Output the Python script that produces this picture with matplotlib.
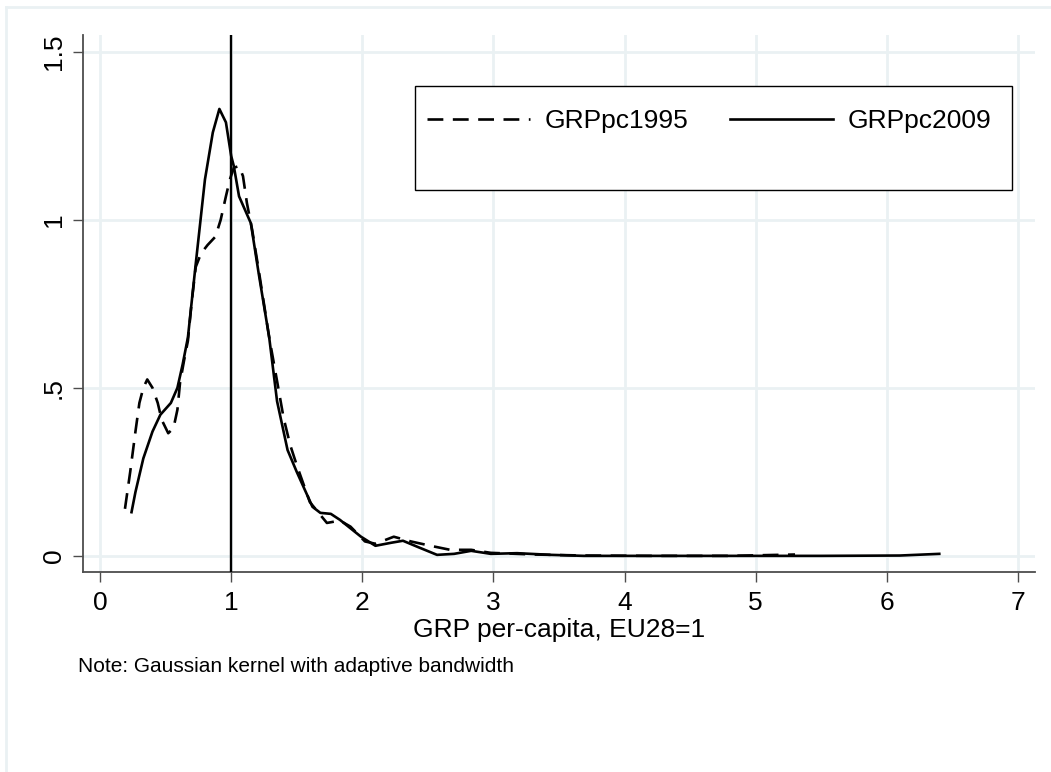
import matplotlib
matplotlib.use("Agg")
import matplotlib.pyplot as plt
from matplotlib.lines import Line2D
from matplotlib.patches import Rectangle

plt.rcParams.update({
    "font.family": ["Liberation Sans", "DejaVu Sans"],
    "font.size": 19,
})

# kernel density estimates, read as (GRP per-capita, density)
x_1995 = [0.19, 0.23, 0.27, 0.30, 0.33, 0.36, 0.40, 0.44, 0.47, 0.52, 0.56, 0.59,
          0.61, 0.64, 0.67, 0.70, 0.73, 0.77, 0.82, 0.88, 0.92, 0.96, 0.99, 1.02,
          1.06, 1.09, 1.12, 1.16, 1.21, 1.29, 1.35, 1.40, 1.45, 1.50, 1.60, 1.73,
          1.83, 1.91, 2.02, 2.10, 2.24, 2.37, 2.52, 2.67, 2.83, 2.98, 3.31, 3.69,
          4.20, 4.80, 5.30]
d_1995 = [0.14, 0.25, 0.37, 0.455, 0.50, 0.525, 0.50, 0.455, 0.405, 0.365, 0.38, 0.435,
          0.515, 0.58, 0.64, 0.76, 0.86, 0.90, 0.925, 0.95, 1.00, 1.07, 1.12, 1.155,
          1.16, 1.13, 1.05, 0.97, 0.85, 0.65, 0.52, 0.41, 0.33, 0.27, 0.16, 0.098,
          0.105, 0.087, 0.043, 0.036, 0.057, 0.043, 0.03, 0.018, 0.018, 0.009, 0.004, 0.001,
          0.0, 0.0, 0.004]

x_2009 = [0.24, 0.27, 0.33, 0.40, 0.46, 0.54, 0.59, 0.63, 0.67, 0.70, 0.73, 0.80,
          0.86, 0.91, 0.96, 1.00, 1.02, 1.06, 1.15, 1.21, 1.29, 1.35, 1.43, 1.50,
          1.62, 1.68, 1.76, 1.83, 1.99, 2.10, 2.22, 2.31, 2.42, 2.57, 2.70, 2.83,
          2.98, 3.18, 3.44, 3.69, 4.50, 5.50, 6.10, 6.40]
d_2009 = [0.13, 0.19, 0.29, 0.37, 0.42, 0.455, 0.50, 0.57, 0.65, 0.76, 0.87, 1.12,
          1.26, 1.33, 1.29, 1.19, 1.16, 1.07, 0.99, 0.84, 0.65, 0.46, 0.315, 0.25,
          0.146, 0.128, 0.125, 0.107, 0.057, 0.03, 0.039, 0.045, 0.027, 0.003, 0.006, 0.015,
          0.006, 0.008, 0.003, 0.0, 0.0, 0.0, 0.001, 0.006]

x_ticks = [0, 1, 2, 3, 4, 5, 6, 7]
y_ticks = [0, 0.5, 1, 1.5]
y_tick_labels = ["0", ".5", "1", "1.5"]

GRID = "#eaf1f3"
AXIS = "#4d4d4d"

W, H = 1051, 772
fig = plt.figure(figsize=(W / 100, H / 100), dpi=100)
ax = fig.add_axes([83 / W, 1 - 572 / H, (1035 - 83) / W, (572 - 35) / H])

ax.set_xlim(-0.13, 7.13)
ax.set_ylim(-0.048, 1.55)

ax.set_xticks(x_ticks)
ax.set_yticks(y_ticks)
ax.set_yticklabels(y_tick_labels, rotation=90, va="center")
ax.grid(True, color=GRID, lw=2.0)
ax.set_axisbelow(True)

for side in ("top", "right"):
    ax.spines[side].set_visible(False)
for side in ("left", "bottom"):
    ax.spines[side].set_color(AXIS)
    ax.spines[side].set_linewidth(1.3)
ax.tick_params(axis="both", direction="out", length=7.5, width=1.0, color=AXIS,
               labelsize=19)
ax.tick_params(axis="x", pad=6)
ax.tick_params(axis="y", pad=5)

ax.axvline(1, color="black", lw=1.7, zorder=3)

dash = (0, (6.0, 3.6))
ax.plot(x_1995, d_1995, color="black", lw=1.9, ls=dash, zorder=4)
ax.plot(x_2009, d_2009, color="black", lw=1.9, zorder=4)

ax.set_xlabel("GRP per-capita, EU28=1", fontsize=19, labelpad=2)

# legend box drawn separately so it keeps the tall empty lower part
fig.patches.append(Rectangle((415 / W, 1 - 190 / H), (1012 - 415) / W, (190 - 86) / H,
                             transform=fig.transFigure, facecolor="white",
                             edgecolor="black", lw=1.0, zorder=5))
handles = [Line2D([], [], color="black", lw=1.9, ls=dash),
           Line2D([], [], color="black", lw=1.9)]
fig.legend(handles, ["GRPpc1995", "GRPpc2009"], loc="center left",
           bbox_to_anchor=(427 / W, 1 - 121 / H), ncol=2, frameon=False,
           fontsize=19, handlelength=3.9, handletextpad=0.55, columnspacing=1.6,
           borderpad=0, borderaxespad=0)

fig.text(78 / W, 1 - 667 / H, "Note: Gaussian kernel with adaptive bandwidth",
         fontsize=15, va="center", ha="left")

# outer graph-region border
fig.add_artist(Line2D([6 / W, 6 / W], [0, 1 - 7 / H], transform=fig.transFigure,
                      color=GRID, lw=2.0))
fig.add_artist(Line2D([6 / W, 1], [1 - 7 / H, 1 - 7 / H], transform=fig.transFigure,
                      color=GRID, lw=2.0))

fig.savefig("out.png", dpi=100)
